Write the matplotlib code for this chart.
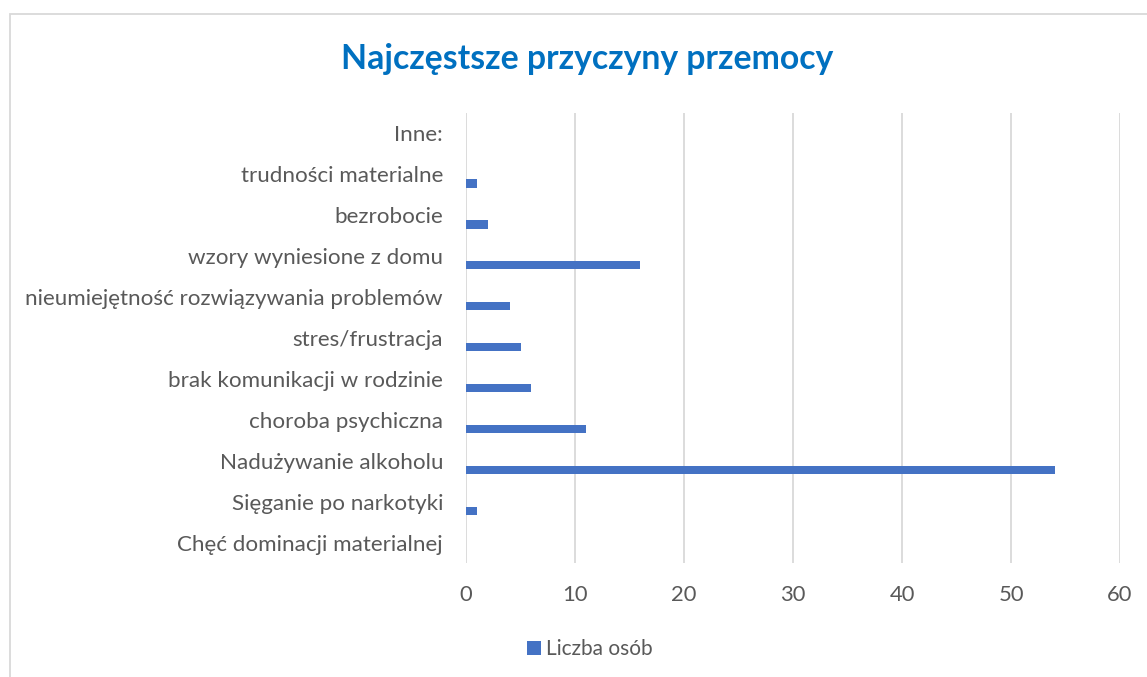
import numpy as np
import matplotlib.pyplot as plt
from matplotlib.patches import Rectangle

# categories listed bottom -> top (Excel order)
categories = [
    "Chęć dominacji materialnej",
    "Sięganie po narkotyki",
    "Nadużywanie alkoholu",
    "choroba psychiczna",
    "brak komunikacji w rodzinie",
    "stres/frustracja",
    "nieumiejętność rozwiązywania problemów",
    "wzory wyniesione z domu",
    "bezrobocie",
    "trudności materialne",
    "Inne:",
]
liczba_osob = [0, 1, 54, 11, 6, 5, 4, 16, 2, 1, 0]
x_ticks = [0, 10, 20, 30, 40, 50, 60]

plt.rcParams["font.family"] = ["Lato", "DejaVu Sans"]
txt_color = "#595959"

W, H = 1147, 677
fig = plt.figure(figsize=(W / 100, H / 100), dpi=100)

# chart area border
fig.patches.append(Rectangle((10 / W, -0.05), 1.1, 1 - 14 / H + 0.05,
                             transform=fig.transFigure, fill=False,
                             edgecolor="#D9D9D9", lw=1.3))

ax = fig.add_axes([466 / W, 1 - 563 / H, (1120 - 466) / W, (563 - 113) / H])

y = np.arange(len(categories))
ax.barh(y - 0.225, liczba_osob, height=0.2, color="#4472C4", label="Liczba osób", zorder=3)

ax.set_xlim(0, 60)
ax.set_ylim(-0.5, len(categories) - 0.5)
ax.set_xticks(x_ticks)
ax.set_yticks(y)
ax.set_yticklabels(categories)
ax.grid(axis="x", color="#D9D9D9", lw=1.3, zorder=0)
for s in ax.spines.values():
    s.set_visible(False)
ax.tick_params(axis="both", length=0, colors=txt_color)
ax.tick_params(axis="x", pad=16, labelsize=15.8)
ax.tick_params(axis="y", pad=16.5, labelsize=16.1)

fig.text(587 / W, 1 - 69 / H, "Najczęstsze przyczyny przemocy", ha="center", va="baseline",
         fontsize=24.3, fontweight="bold", color="#0070C0")

fig.legend(loc="center", bbox_to_anchor=(590 / W, 1 - 649 / H), frameon=False,
           fontsize=15, handlelength=0.65, handleheight=0.65, handletextpad=0.25,
           labelcolor=txt_color)

fig.savefig("out.png", dpi=100)
